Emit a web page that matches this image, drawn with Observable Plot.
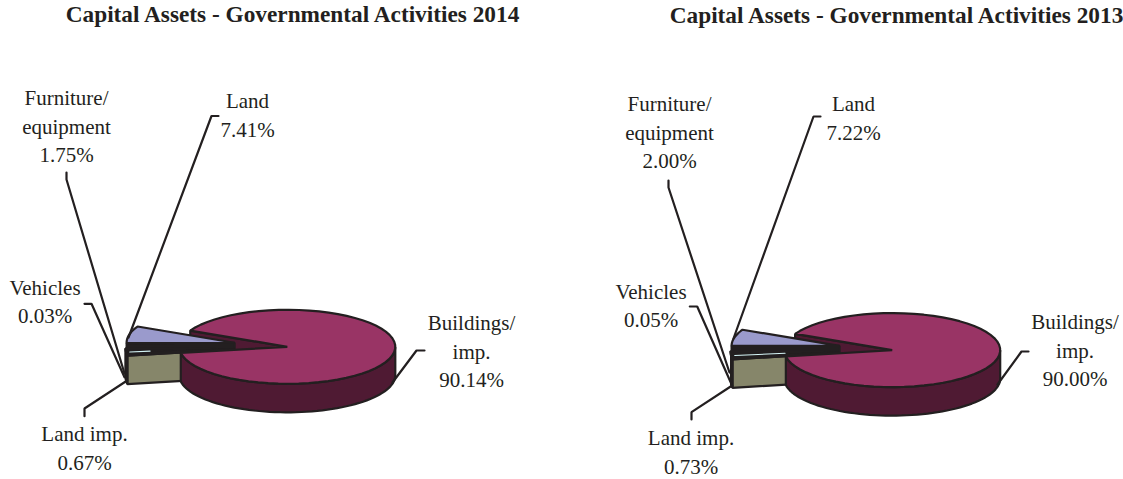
<!DOCTYPE html>
<html>
<head>
<meta charset="utf-8">
<script src="https://cdn.jsdelivr.net/npm/d3@7"></script>
<script src="https://cdn.jsdelivr.net/npm/@observablehq/plot@0.6"></script>
<style>html,body{margin:0;padding:0;background:#fff}svg{display:block}</style>
</head>
<body>
<div id="chart"></div>
<script>
// ---- data
const categories = ["Buildings/\nimp.", "Land imp.", "Vehicles", "Furniture/\nequipment", "Land"];
const values2014 = [90.14, 0.67, 0.03, 1.75, 7.41];
const values2013 = [90.00, 0.73, 0.05, 2.00, 7.22];
const titles = ["Capital Assets - Governmental Activities 2014", "Capital Assets - Governmental Activities 2013"];

// ---- styling and layout
const W = 1123, H = 479;
const ink = "#231f20";
const topColors  = ["#993465", "#86866a", "#d4f4f6", "#231f20", "#9a9acc"];
const sideColors = ["#4f1a33", "#86866a", "#231f20", "#231f20", "#231f20"];
const pieGeom = [
  {cx: 286.8, cy: 346.3, rx: 108, ry: 37, depth: 28.5, start: 296, explode: 0.5, vehicleFrac: 0.22},
  {cx: 891.7, cy: 349.6, rx: 108, ry: 37, depth: 28.5, start: 296, explode: 0.5, vehicleFrac: 0.5}
];
const titleAt = [{x: 292, y: 13.7}, {x: 896, y: 15.3}];
// label centres, in the same order as categories
const labelsAt = [
  [{x: 471, y: 349}, {x: 84, y: 446}, {x: 44.5, y: 299.5}, {x: 66, y: 124}, {x: 247, y: 113}],
  [{x: 1074.5, y: 348}, {x: 690.5, y: 450}, {x: 650.5, y: 303.5}, {x: 669, y: 130}, {x: 853, y: 116}]
];
// leader lines: elbow path of each label
const leaders = [
  [[[424,350],[416,350],[392,382]], [[84,415.7],[84,408],[126.7,380]], [[84,303.3],[91,303.3],[124,376.7]], [[66,172],[66,179],[124,373]], [[218,115.5],[211,115.5],[128,337]]],
  [[[1028,351],[1021,351],[997,384]], [[691,419],[691,411.7],[731.7,385]], [[689.3,306],[696.7,306],[730.7,383]], [[668,180],[668,187],[729,372]], [[820,116],[813,116],[733,338]]]
];

// ---- geometry built from the values
const rad = d => d * Math.PI / 180;
function buildPie(values, g) {
  const total = d3.sum(values);
  let a = g.start;
  const polys = [];
  const slices = values.map((v, i) => {
    const s = {i, a0: a, a1: a + v / total * 360};
    a = s.a1; return s;
  });
  const at = (ox, oy, ang, r = 1) => ({
    x: ox + g.rx * r * Math.sin(rad(ang)),
    y: oy - g.ry * r * Math.cos(rad(ang))
  });
  const arc = (ox, oy, a0, a1) => d3.range(0, 61).map(k => at(ox, oy, a0 + (a1 - a0) * k / 60));
  const down = p => ({x: p.x, y: p.y + g.depth});
  const add = (pts, fill, strokeWidth = 2.2) => polys.push({pts, fill, strokeWidth});

  // small slices are pulled out along their own bisector; painted back to front
  const small = slices.slice(1).reverse();
  const big = slices[0];
  // cut face of the big slice seen through the gap
  const o = {x: g.cx, y: g.cy};
  const bigStart = at(g.cx, g.cy, big.a0);
  add([o, bigStart, down(bigStart), down(o)], sideColors[0]);

  small.forEach(s => {
    const mid = (s.a0 + s.a1) / 2;
    const ox = g.cx + g.explode * g.rx * Math.sin(rad(mid));
    const oy = g.cy - g.explode * g.ry * Math.cos(rad(mid));
    const apex = {x: ox, y: oy};
    const first = at(ox, oy, s.a0);
    // cut face of the slice's leading edge
    add([apex, first, down(first), down(apex)], sideColors[s.i]);
    const outer = arc(ox, oy, s.a0, s.a1);
    if (s.a1 - 360 <= 270) add([...outer, ...outer.map(down).reverse()], sideColors[s.i]);
    add([apex, ...outer], topColors[s.i]);
  });

  // the big slice's outer wall, visible part only, then its top
  const wall = arc(g.cx, g.cy, 90, big.a1 - 360);
  add([...wall, ...wall.map(down).reverse()], sideColors[0]);
  add([o, ...arc(g.cx, g.cy, big.a0, big.a1)], topColors[0]);

  // the vehicles sliver is thinner than the outline: a light hairline
  const veh = slices[2];
  const vm = (veh.a0 + veh.a1) / 2;
  const vx = g.cx + g.explode * g.rx * Math.sin(rad(vm));
  const vy = g.cy - g.explode * g.ry * Math.cos(rad(vm)) - 1.5;
  polys.push({pts: [at(vx, vy, vm, 0.97), at(vx, vy, vm, 1 - g.vehicleFrac)], fill: "none", strokeWidth: 1.1, stroke: topColors[2]});
  return polys;
}

const allValues = [values2014, values2013];
const marks = [];
allValues.forEach((values, c) => {
  buildPie(values, pieGeom[c]).forEach(p => {
    marks.push(Plot.line(p.pts, {
      x: "x", y: "y", fill: p.fill, stroke: p.stroke || ink, strokeWidth: p.strokeWidth,
      strokeLinejoin: "miter", curve: p.stroke ? "linear" : "linear-closed"
    }));
  });
  leaders[c].forEach(path => {
    marks.push(Plot.line(path.map(([x, y]) => ({x, y})), {x: "x", y: "y", stroke: ink, strokeWidth: 2.2, strokeLinejoin: "miter"}));
  });
  marks.push(Plot.text(values.map((v, i) => ({
    text: categories[i] + "\n" + v.toFixed(2) + "%", ...labelsAt[c][i]
  })), {
    x: "x", y: "y", text: "text", fontFamily: "'Liberation Serif'", fontSize: 21,
    lineHeight: 1.34, fill: ink, textAnchor: "middle"
  }));
  marks.push(Plot.text([{text: titles[c], ...titleAt[c]}], {
    x: "x", y: "y", text: "text", fontFamily: "'Liberation Serif'", fontSize: 23.3, fontWeight: "bold",
    fill: ink, textAnchor: "middle"
  }));
});

const chart = Plot.plot({
  width: W, height: H, margin: 0,
  x: {domain: [0, W], range: [0, W], axis: null},
  y: {domain: [0, H], range: [0, H], axis: null},
  style: {background: "#fff"},
  marks
});
document.getElementById("chart").appendChild(chart);
</script>
</body>
</html>
